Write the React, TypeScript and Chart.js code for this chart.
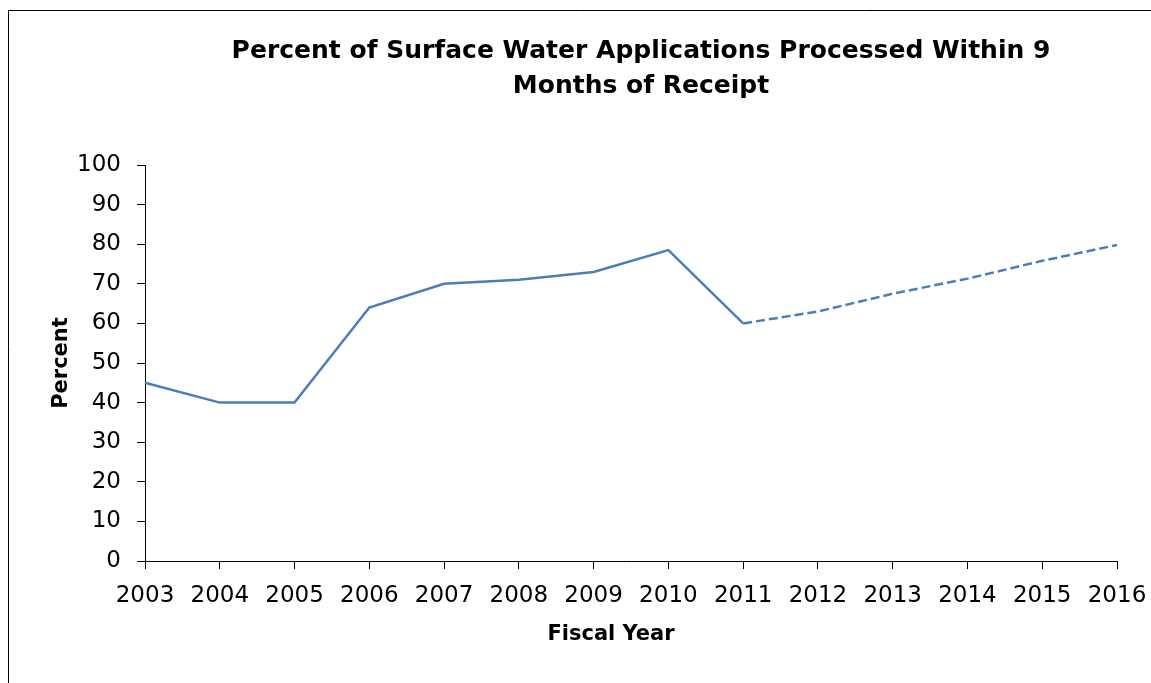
import React, { useEffect, useRef } from "react";
import { Chart, registerables } from "chart.js";

Chart.register(...registerables);

const years: string[] = ["2003", "2004", "2005", "2006", "2007", "2008", "2009", "2010", "2011", "2012", "2013", "2014", "2015", "2016"];
const percentValues: number[] = [45, 40, 40, 64, 70, 71, 73, 78.5, 60, 63, 67.5, 71.3, 75.8, 79.8];
const projectedFromIndex = 8; // from 2011 onward the line is dashed
const titleLines: string[] = ["Percent of Surface Water Applications Processed Within 9", "Months of Receipt"];
const xAxisTitle = "Fiscal Year";
const yAxisTitle = "Percent";
const yMin = 0;
const yMax = 100;
const yStep = 10;

const FONT = '"DejaVu Sans", "Liberation Sans", Arial, sans-serif';
const LINE_COLOR = "#4a7ebb";

const framePlugin = {
  id: "frameAndTexts",
  beforeDraw(chart: any) {
    const ctx = chart.ctx;
    ctx.save();
    ctx.fillStyle = "#ffffff";
    ctx.fillRect(0, 0, chart.width, chart.height);
    ctx.strokeStyle = "#000000";
    ctx.lineWidth = 1;
    ctx.beginPath();
    ctx.moveTo(8.5, chart.height);
    ctx.lineTo(8.5, 10.5);
    ctx.lineTo(chart.width, 10.5);
    ctx.stroke();
    ctx.restore();
  },
  afterDraw(chart: any) {
    const ctx = chart.ctx;
    ctx.save();
    ctx.fillStyle = "#000000";
    ctx.textAlign = "center";
    ctx.textBaseline = "middle";
    ctx.font = `bold 25px ${FONT}`;
    titleLines.forEach((line, i) => {
      ctx.fillText(line, 641, 51 + i * 35);
    });
    ctx.font = `bold 21px ${FONT}`;
    ctx.fillText(xAxisTitle, 611, 635);
    ctx.restore();
  },
};

export default function App() {
  const canvasRef = useRef<HTMLCanvasElement | null>(null);

  useEffect(() => {
    const canvas = canvasRef.current;
    if (!canvas) return;
    const chart = new Chart(canvas, {
      type: "line",
      data: {
        labels: years,
        datasets: [
          {
            label: yAxisTitle,
            data: percentValues,
            borderColor: LINE_COLOR,
            backgroundColor: LINE_COLOR,
            borderWidth: 2.5,
            pointRadius: 0,
            pointHoverRadius: 0,
            fill: false,
            tension: 0,
            segment: {
              borderDash: (c: any) => (c.p0DataIndex >= projectedFromIndex ? [9, 4] : undefined),
            },
          },
        ],
      },
      options: {
        responsive: false,
        animation: false,
        devicePixelRatio: 1,
        layout: { padding: { left: 0, right: 34, top: 165, bottom: 62 } },
        plugins: {
          legend: { display: false },
          title: { display: false },
          tooltip: { enabled: false },
        },
        scales: {
          x: {
            type: "category",
            offset: false,
            grid: {
              display: true,
              drawOnChartArea: false,
              drawTicks: true,
              tickLength: 8,
              color: "#000000",
              lineWidth: 1,
            },
            border: { display: true, color: "#000000", width: 1 },
            ticks: {
              color: "#000000",
              font: { family: FONT, size: 23 },
              padding: 13,
              maxRotation: 0,
              autoSkip: false,
            },
            afterFit: (scale: any) => {
              scale.height = 60;
              scale.paddingLeft = 0;
              scale.paddingRight = 0;
            },
          },
          y: {
            min: yMin,
            max: yMax,
            grid: {
              display: true,
              drawOnChartArea: false,
              drawTicks: true,
              tickLength: 8,
              color: "#000000",
              lineWidth: 1,
            },
            border: { display: true, color: "#000000", width: 1 },
            ticks: {
              stepSize: yStep,
              color: "#000000",
              font: { family: FONT, size: 23 },
              padding: 16,
            },
            title: {
              display: true,
              text: yAxisTitle,
              color: "#000000",
              font: { family: FONT, size: 21, weight: "bold" },
              padding: { top: 49, bottom: 0 },
            },
            afterFit: (scale: any) => {
              scale.width = 145;
              scale.paddingTop = 0;
              scale.paddingBottom = 0;
            },
          },
        },
      },
      plugins: [framePlugin],
    });
    return () => chart.destroy();
  }, []);

  return (
    <div style={{ position: "fixed", left: 0, top: 0, width: 1151, height: 683, background: "#fff", overflow: "hidden" }}>
      <canvas ref={canvasRef} width={1151} height={683} style={{ display: "block" }} />
    </div>
  );
}
